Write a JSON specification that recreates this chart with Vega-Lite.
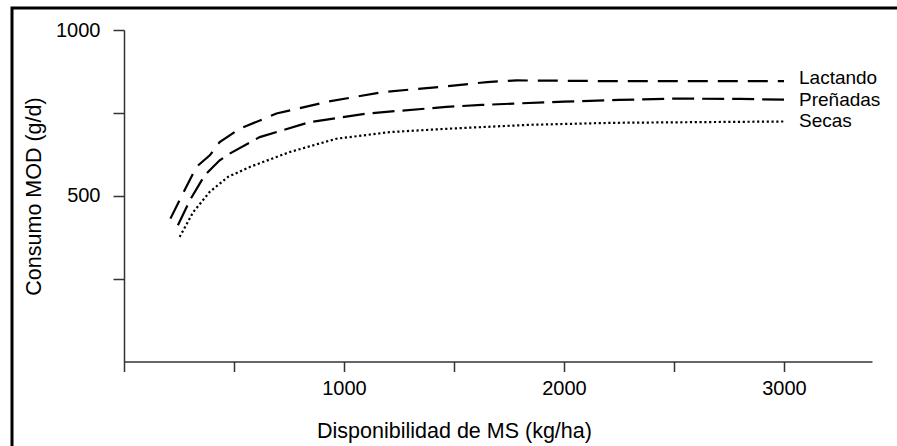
{
  "$schema": "https://vega.github.io/schema/vega-lite/v6.json",
  "width": 887,
  "height": 440,
  "autosize": {"type": "none"},
  "padding": {"left": 12, "top": 8, "right": 0, "bottom": 0},
  "background": "white",
  "config": {
    "view": {"stroke": "black", "strokeWidth": 3},
    "font": "Liberation Sans"
  },
  "data": {
    "values": [
      {"serie": "Lactando", "x": 211, "y": 431},
      {"serie": "Lactando", "x": 268, "y": 507},
      {"serie": "Lactando", "x": 329, "y": 587},
      {"serie": "Lactando", "x": 390, "y": 622},
      {"serie": "Lactando", "x": 435, "y": 662},
      {"serie": "Lactando", "x": 526, "y": 702},
      {"serie": "Lactando", "x": 693, "y": 748},
      {"serie": "Lactando", "x": 920, "y": 783},
      {"serie": "Lactando", "x": 1178, "y": 813},
      {"serie": "Lactando", "x": 1465, "y": 830},
      {"serie": "Lactando", "x": 1650, "y": 843},
      {"serie": "Lactando", "x": 1786, "y": 848},
      {"serie": "Lactando", "x": 2160, "y": 846},
      {"serie": "Lactando", "x": 2500, "y": 846},
      {"serie": "Lactando", "x": 3000, "y": 846},
      {"serie": "Preñadas", "x": 245, "y": 411},
      {"serie": "Preñadas", "x": 299, "y": 486},
      {"serie": "Preñadas", "x": 367, "y": 562},
      {"serie": "Preñadas", "x": 435, "y": 607},
      {"serie": "Preñadas", "x": 480, "y": 627},
      {"serie": "Preñadas", "x": 617, "y": 677},
      {"serie": "Preñadas", "x": 844, "y": 722},
      {"serie": "Preñadas", "x": 1103, "y": 748},
      {"serie": "Preñadas", "x": 1465, "y": 768},
      {"serie": "Preñadas", "x": 1626, "y": 774},
      {"serie": "Preñadas", "x": 1770, "y": 778},
      {"serie": "Preñadas", "x": 2000, "y": 784},
      {"serie": "Preñadas", "x": 2250, "y": 789},
      {"serie": "Preñadas", "x": 2500, "y": 793},
      {"serie": "Preñadas", "x": 2800, "y": 792},
      {"serie": "Preñadas", "x": 3000, "y": 790},
      {"serie": "Secas", "x": 253, "y": 376},
      {"serie": "Secas", "x": 315, "y": 451},
      {"serie": "Secas", "x": 390, "y": 512},
      {"serie": "Secas", "x": 473, "y": 557},
      {"serie": "Secas", "x": 572, "y": 587},
      {"serie": "Secas", "x": 754, "y": 632},
      {"serie": "Secas", "x": 965, "y": 672},
      {"serie": "Secas", "x": 1208, "y": 692},
      {"serie": "Secas", "x": 1465, "y": 702},
      {"serie": "Secas", "x": 1844, "y": 714},
      {"serie": "Secas", "x": 2221, "y": 720},
      {"serie": "Secas", "x": 2600, "y": 722},
      {"serie": "Secas", "x": 3000, "y": 724}
    ]
  },
  "encoding": {
    "x": {
      "field": "x",
      "type": "quantitative",
      "scale": {"domain": [0, 3400], "range": [112, 860], "nice": false, "zero": false},
      "axis": {
        "title": "Disponibilidad de MS (kg/ha)",
        "values": [0, 500, 1000, 1500, 2000, 2500, 3000],
        "format": "d",
        "labelExpr": "datum.value > 0 && datum.value % 1000 === 0 ? datum.label : ''",
        "labelOverlap": false,
        "labelFlush": false,
        "offset": -86.5,
        "grid": false,
        "tickSize": 10,
        "domainColor": "#333",
        "tickColor": "#333",
        "domainWidth": 1.5,
        "tickWidth": 1.5,
        "labelFontSize": 20,
        "labelColor": "black",
        "labelPadding": 7,
        "titleFontSize": 21.5,
        "titleFontWeight": "normal",
        "titleColor": "black",
        "titleX": 442,
        "titleY": 76,
        "titleAlign": "center",
        "titleBaseline": "alphabetic"
      }
    },
    "y": {
      "field": "y",
      "type": "quantitative",
      "scale": {"domain": [0, 1000], "range": [353.5, 22], "nice": false},
      "axis": {
        "title": "Consumo MOD (g/d)",
        "values": [250, 500, 750, 1000],
        "format": "d",
        "labelExpr": "datum.value % 500 === 0 ? datum.label : ''",
        "labelOverlap": false,
        "labelFlush": false,
        "offset": -112,
        "grid": false,
        "tickSize": 11,
        "domainColor": "#333",
        "tickColor": "#333",
        "domainWidth": 1.5,
        "tickWidth": 1.5,
        "labelFontSize": 20,
        "labelColor": "black",
        "labelPadding": 13,
        "titleFontSize": 21.5,
        "titleFontWeight": "normal",
        "titleColor": "black",
        "titleX": -83.5,
        "titleY": 188,
        "titleAngle": -90,
        "titleAlign": "center",
        "titleBaseline": "alphabetic"
      }
    }
  },
  "layer": [
    {
      "mark": {"type": "line", "color": "black", "strokeWidth": 2.2, "strokeCap": "butt"},
      "encoding": {
        "strokeDash": {
          "field": "serie",
          "type": "nominal",
          "scale": {"domain": ["Lactando", "Preñadas", "Secas"], "range": [[20, 10], [22, 8], [2.2, 2.6]]},
          "legend": null
        }
      }
    },
    {
      "transform": [{"filter": "datum.x === 3000 && datum.serie === 'Lactando'"}],
      "mark": {"type": "text", "align": "left", "baseline": "middle", "dx": 15, "dy": -3, "fontSize": 19, "color": "black"},
      "encoding": {
        "text": {"field": "serie", "type": "nominal"}
      }
    },
    {
      "transform": [{"filter": "datum.x === 3000 && datum.serie !== 'Lactando'"}],
      "mark": {"type": "text", "align": "left", "baseline": "middle", "dx": 15, "fontSize": 19, "color": "black"},
      "encoding": {
        "text": {"field": "serie", "type": "nominal"}
      }
    }
  ]
}
